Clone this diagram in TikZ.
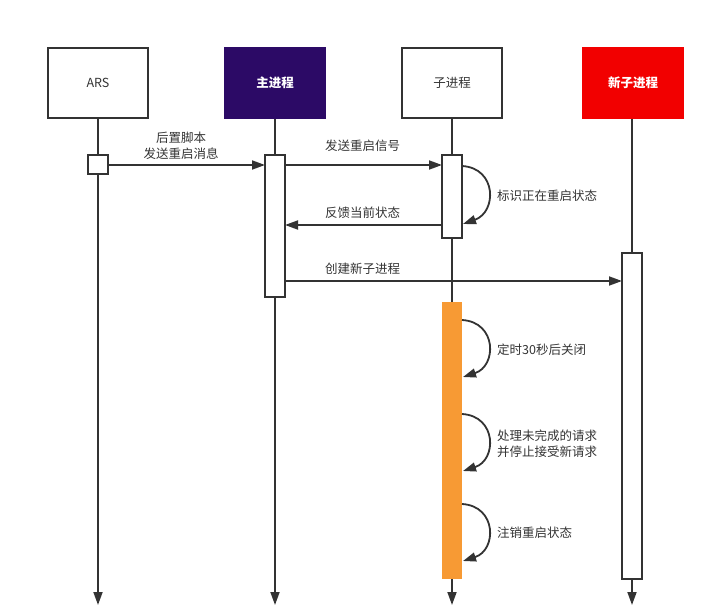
\documentclass[tikz,border=0pt]{standalone}
\usepackage{fontspec}
\setmainfont{Noto Sans CJK SC}
\usetikzlibrary{arrows.meta}
\definecolor{ln}{HTML}{333333}
\definecolor{purp}{HTML}{2C0A66}
\definecolor{redc}{HTML}{F20000}
\definecolor{orng}{HTML}{F79A34}
\begin{document}
\begin{tikzpicture}[x=1pt,y=-1pt,
  every node/.style={font=\fontsize{12.5}{16}\selectfont, text=ln},
  head/.style={draw=ln, line width=1.8pt, minimum width=100pt, minimum height=70pt, inner sep=0pt},
  act/.style={draw=ln, line width=1.8pt, fill=white, minimum width=20pt, inner sep=0pt},
  life/.style={draw=ln, line width=1.8pt, -{Triangle[length=13pt,width=9pt]}},
  msg/.style={draw=ln, line width=1.8pt, -{Triangle[length=13pt,width=9pt]}},
  lbl/.style={inner sep=1pt, align=center},
  llbl/.style={inner sep=0pt, anchor=west, align=left}]
\useasboundingbox (0,0) rectangle (715,607);
% headers
\node[head] (ars) at (98,83) {ARS};
\node[head, fill=purp, draw=purp] (main) at (275,83) {\textcolor{white}{\bfseries 主进程}};
\node[head] (child) at (452,83) {子进程};
\node[head, fill=redc, draw=redc] (nchild) at (633,83) {\textcolor{white}{\bfseries 新子进程}};
% lifeline ends
\coordinate (e1) at (98,605);
\coordinate (e2) at (275,605);
\coordinate (e3) at (452,605);
\coordinate (e4) at (632,605);
\draw[life] (ars.south) -- (e1);
\draw[life] (main.south) -- (e2);
\draw[life] (child.south) -- (e3);
\draw[life] (nchild.south -| e4) -- (e4);
% activations
\node[act, minimum height=19pt] (a1) at (98,164.5) {};
\node[act, minimum height=142pt] (a2) at (275,226) {};
\node[act, minimum height=83pt] (a3) at (452,196.5) {};
\node[fill=orng, minimum width=20pt, minimum height=277pt, inner sep=0pt] (a4) at (452,440.5) {};
\node[act, minimum height=326pt] (a5) at (632,416) {};
% messages
\coordinate (m1s) at (108,165); \coordinate (m1e) at (265,165);
\draw[msg] (m1s) -- (m1e);
\node[lbl] (l1) at (181,146) {后置脚本\\发送重启消息};
\coordinate (m2s) at (285,165); \coordinate (m2e) at (442,165);
\draw[msg] (m2s) -- (m2e);
\node[llbl] (l2) at (325,146) {发送重启信号};
\coordinate (m3s) at (442,225); \coordinate (m3e) at (285,225);
\draw[msg] (m3s) -- (m3e);
\node[llbl] (l3) at (325,213) {反馈当前状态};
\coordinate (m4s) at (285,281); \coordinate (m4e) at (622,281);
\draw[msg] (m4s) -- (m4e);
\node[llbl] (l4) at (325,269) {创建新子进程};
% self loops
\coordinate (s1a) at (462,166); \coordinate (s1b) at (463,224);
\draw[msg] (s1a) .. controls (497,168) and (497,212) .. (s1b);
\node[llbl] (t1) at (497,196) {标识正在重启状态};
\coordinate (s2a) at (462,320); \coordinate (s2b) at (463,377);
\draw[msg] (s2a) .. controls (497,322) and (497,366) .. (s2b);
\node[llbl] (t2) at (497,350) {定时30秒后关闭};
\coordinate (s3a) at (462,414); \coordinate (s3b) at (463,471);
\draw[msg] (s3a) .. controls (497,416) and (497,460) .. (s3b);
\node[llbl] (t3) at (497,444) {处理未完成的请求\\并停止接受新请求};
\coordinate (s4a) at (462,504); \coordinate (s4b) at (463,561);
\draw[msg] (s4a) .. controls (497,506) and (497,550) .. (s4b);
\node[llbl] (t4) at (497,533) {注销重启状态};
\end{tikzpicture}
\end{document}
